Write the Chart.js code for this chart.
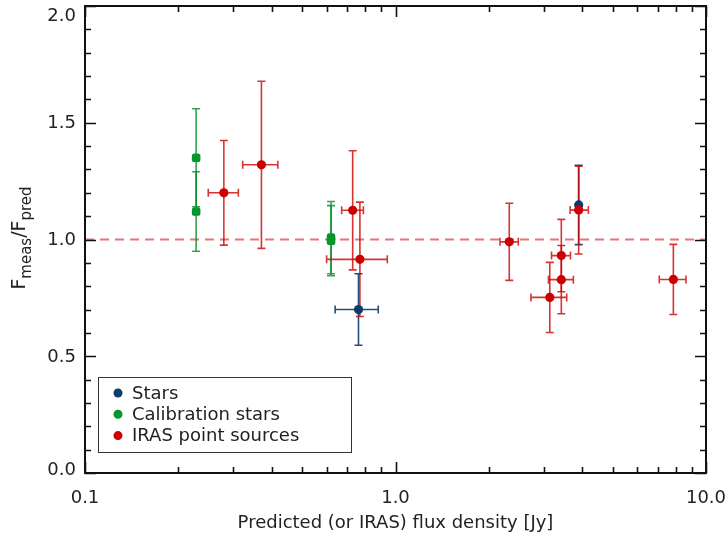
<!DOCTYPE html>
<html>
<head>
<meta charset="utf-8">
<script src="https://cdn.jsdelivr.net/npm/chart.js@4"></script>
<style>
  html, body { margin: 0; padding: 0; background: #fff; }
  #wrap { width: 728px; height: 540px; }
</style>
</head>
<body>
<div id="wrap"><canvas id="fluxChart" width="728" height="540"></canvas></div>
<script>
// Stars
const starsX = [0.76, 3.89];
const starsY = [0.70, 1.148];
const starsYErr = [0.153, 0.17];
const starsXLo = [0.639, null];
const starsXHi = [0.880, null];

// Calibration stars
const calX = [0.228, 0.228, 0.62, 0.62];
const calY = [1.35, 1.12, 1.008, 0.995];
const calYErr = [0.21, 0.17, 0.155, 0.15];

// IRAS point sources
const irasX = [0.280, 0.370, 0.728, 0.768, 2.325, 3.14, 3.42, 3.42, 3.89, 7.85];
const irasY = [1.20, 1.32, 1.125, 0.915, 0.99, 0.752, 0.931, 0.828, 1.126, 0.829];
const irasYErr = [0.224, 0.358, 0.255, 0.245, 0.165, 0.15, 0.155, 0.146, 0.188, 0.15];
const irasXLo = [0.2495, 0.322, 0.671, 0.600, 2.17, 2.73, 3.18, 3.11, 3.65, 7.07];
const irasXHi = [0.3118, 0.418, 0.788, 0.941, 2.486, 3.56, 3.66, 3.74, 4.18, 8.62];

const xTickVals = [0.1, 1, 10];
const yTickVals = [0, 0.5, 1, 1.5, 2];
const legendLabels = ["Stars", "Calibration stars", "IRAS point sources"];

const BLUE = "#0c3b6c";
const GREEN = "#06952f";
const RED = "#cc0000";
const FONT = "'DejaVu Sans', sans-serif";

function pts(xs, ys) {
  return xs.map((x, i) => ({ x: x, y: ys[i] }));
}

const series = [
  { x: irasX, y: irasY, yErr: irasYErr, xLo: irasXLo, xHi: irasXHi, color: "rgba(206,0,0,0.8)" },
  { x: calX, y: calY, yErr: calYErr, xLo: null, xHi: null, color: "rgba(0,140,40,0.8)" },
  { x: starsX, y: starsY, yErr: starsYErr, xLo: starsXLo, xHi: starsXHi, color: "rgba(12,59,108,0.9)" }
];

// dashed line, error bars (under markers)
const underPlugin = {
  id: "under",
  beforeDatasetsDraw(chart) {
    const ctx = chart.ctx, xs = chart.scales.x, ys = chart.scales.y, a = chart.chartArea;
    ctx.save();
    ctx.beginPath();
    ctx.rect(a.left, a.top, a.right - a.left, a.bottom - a.top);
    ctx.clip();
    // reference line at 1.0
    ctx.strokeStyle = "rgba(225,70,70,0.75)";
    ctx.lineWidth = 2;
    ctx.setLineDash([9, 6]);
    ctx.beginPath();
    ctx.moveTo(a.left, ys.getPixelForValue(1));
    ctx.lineTo(a.right, ys.getPixelForValue(1));
    ctx.stroke();
    ctx.setLineDash([]);
    // error bars; later series drawn first so red ends on top
    for (let s = series.length - 1; s >= 0; s--) {
      const d = series[s];
      ctx.strokeStyle = d.color;
      ctx.lineWidth = 1.6;
      for (let i = 0; i < d.x.length; i++) {
        const px = xs.getPixelForValue(d.x[i]);
        const py = ys.getPixelForValue(d.y[i]);
        const top = ys.getPixelForValue(d.y[i] + d.yErr[i]);
        const bot = ys.getPixelForValue(d.y[i] - d.yErr[i]);
        ctx.beginPath();
        ctx.moveTo(px, top); ctx.lineTo(px, bot);
        ctx.moveTo(px - 4, top); ctx.lineTo(px + 4, top);
        ctx.moveTo(px - 4, bot); ctx.lineTo(px + 4, bot);
        if (d.xLo && d.xLo[i] != null) {
          const l = xs.getPixelForValue(d.xLo[i]);
          const r = xs.getPixelForValue(d.xHi[i]);
          ctx.moveTo(l, py); ctx.lineTo(r, py);
          ctx.moveTo(l, py - 4); ctx.lineTo(l, py + 4);
          ctx.moveTo(r, py - 4); ctx.lineTo(r, py + 4);
        }
        ctx.stroke();
      }
    }
    ctx.restore();
  }
};

// frame, inward ticks, y labels, titles, legend
const framePlugin = {
  id: "frame",
  afterDraw(chart) {
    const ctx = chart.ctx, xs = chart.scales.x, ys = chart.scales.y, a = chart.chartArea;
    ctx.save();
    ctx.strokeStyle = "#111";
    ctx.lineWidth = 1.6;
    ctx.beginPath();
    // x ticks (log): majors at decades, minors 2..9
    for (let dec = 0.1; dec < 10.5; dec *= 10) {
      for (let m = 1; m <= 9; m++) {
        const v = dec * m;
        if (v > 10.0001) break;
        const px = Math.round(xs.getPixelForValue(v)) + 0.5;
        const len = m === 1 ? 11 : 6;
        ctx.moveTo(px, a.bottom); ctx.lineTo(px, a.bottom - len);
        ctx.moveTo(px, a.top); ctx.lineTo(px, a.top + len);
      }
    }
    // y ticks: majors every 0.5, minors every 0.1
    for (let k = 0; k <= 20; k++) {
      const py = Math.round(ys.getPixelForValue(k / 10)) + 0.5;
      const len = k % 5 === 0 ? 11 : 6;
      ctx.moveTo(a.left, py); ctx.lineTo(a.left + len, py);
      ctx.moveTo(a.right, py); ctx.lineTo(a.right - len, py);
    }
    ctx.stroke();
    ctx.lineWidth = 2;
    ctx.strokeRect(a.left, a.top, a.right - a.left, a.bottom - a.top);

    // y tick labels (kept inside the frame's height like the original)
    ctx.fillStyle = "#222";
    ctx.font = "18px " + FONT;
    ctx.textAlign = "right";
    ctx.textBaseline = "middle";
    yTickVals.forEach(v => {
      const py = Math.min(Math.max(ys.getPixelForValue(v), a.top + 9), a.bottom - 4);
      ctx.fillText(v.toFixed(1), a.left - 9, py + 1);
    });

    // x title
    ctx.textAlign = "center";
    ctx.fillText("Predicted (or IRAS) flux density [Jy]", (a.left + a.right) / 2, 523);

    // y title with subscripts
    const parts = [
      { t: "F", size: 19, dy: 0 },
      { t: "meas", size: 15, dy: 6 },
      { t: "/F", size: 19, dy: 0 },
      { t: "pred", size: 15, dy: 6 }
    ];
    let total = 0;
    parts.forEach(p => { ctx.font = p.size + "px " + FONT; p.w = ctx.measureText(p.t).width; total += p.w; });
    ctx.translate(25, 238);
    ctx.rotate(-Math.PI / 2);
    ctx.textAlign = "left";
    ctx.textBaseline = "alphabetic";
    let cx = -total / 2;
    parts.forEach(p => {
      ctx.font = p.size + "px " + FONT;
      ctx.fillText(p.t, cx, p.dy);
      cx += p.w;
    });
    ctx.setTransform(1, 0, 0, 1, 0, 0);

    // legend box
    const bx = a.left + 13, by = a.bottom - 96, bw = 253, bh = 75;
    ctx.fillStyle = "#fff";
    ctx.fillRect(bx, by, bw, bh);
    ctx.strokeStyle = "#333";
    ctx.lineWidth = 1;
    ctx.strokeRect(bx + 0.5, by + 0.5, bw, bh);
    const cols = [BLUE, GREEN, RED];
    ctx.font = "18px " + FONT;
    ctx.textAlign = "left";
    ctx.textBaseline = "middle";
    legendLabels.forEach((lab, i) => {
      const yy = by + 16 + i * 21.3;
      ctx.fillStyle = cols[i];
      ctx.beginPath();
      ctx.arc(bx + 20, yy, 4.5, 0, Math.PI * 2);
      ctx.fill();
      ctx.fillStyle = "#222";
      ctx.fillText(lab, bx + 34, yy + 1);
    });
    ctx.restore();
  }
};

new Chart(document.getElementById("fluxChart"), {
  type: "scatter",
  data: {
    datasets: [
      { label: legendLabels[2], data: pts(irasX, irasY), backgroundColor: RED, borderColor: RED,
        pointRadius: 4.6, pointBorderWidth: 0 },
      { label: legendLabels[1], data: pts(calX, calY), backgroundColor: GREEN, borderColor: GREEN,
        pointStyle: "rectRounded", pointRadius: 5, pointBorderWidth: 0 },
      { label: legendLabels[0], data: pts(starsX, starsY), backgroundColor: BLUE, borderColor: BLUE,
        pointRadius: 4.6, pointBorderWidth: 0 }
    ]
  },
  options: {
    responsive: false,
    animation: false,
    layout: { padding: { top: 6, right: 22, left: 0, bottom: 0 } },
    plugins: { legend: { display: false }, tooltip: { enabled: false } },
    scales: {
      x: {
        type: "logarithmic",
        min: 0.1,
        max: 10,
        grid: { display: false, drawTicks: false },
        border: { display: false },
        afterBuildTicks: s => { s.ticks = xTickVals.map(v => ({ value: v })); },
        afterFit: s => { s.height = 67; s.paddingLeft = 0; s.paddingRight = 0; },
        ticks: {
          autoSkip: false,
          maxRotation: 0,
          padding: 15,
          color: "#222",
          font: { family: FONT, size: 18 },
          callback: v => Number(v).toFixed(1)
        }
      },
      y: {
        min: 0,
        max: 2,
        grid: { display: false, drawTicks: false },
        border: { display: false },
        afterFit: s => { s.width = 85; s.paddingTop = 0; s.paddingBottom = 0; },
        ticks: { display: false, stepSize: 0.5 }
      }
    }
  },
  plugins: [underPlugin, framePlugin]
});
</script>
</body>
</html>
